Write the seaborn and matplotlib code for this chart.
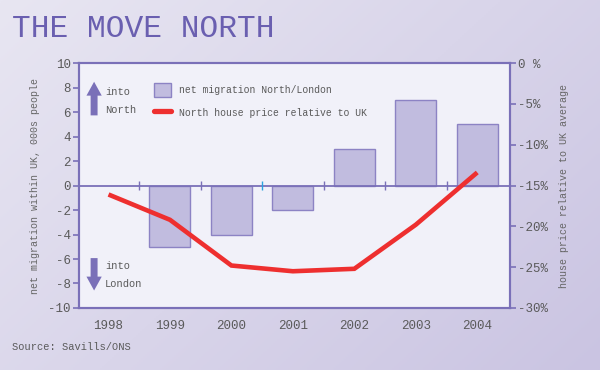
"""
The move North: net migration North/London vs North house prices relative to UK
"""
import numpy as np
import pandas as pd
import matplotlib
matplotlib.use('Agg')
import matplotlib.pyplot as plt
from matplotlib.patches import Patch
from matplotlib.lines import Line2D
import seaborn as sns

# Datos
years = ['1998', '1999', '2000', '2001', '2002', '2003', '2004']
migration_years = ['1999', '2000', '2001', '2002', '2003', '2004']
net_migration = [-5, -4, -2, 3, 7, 5]          # miles de personas
house_price_rel = [-16.1, -19.2, -24.8, -25.5, -25.2, -19.8, -13.4]  # % vs media UK
left_ticks = [10, 8, 6, 4, 2, 0, -2, -4, -6, -8, -10]
right_ticks = [0, -5, -10, -15, -20, -25, -30]
right_labels = ['0 %', '-5%', '-10%', '-15%', '-20%', '-25%', '-30%']

PURPLE = '#7a70b8'
BAR_FILL = '#c1bcdf'
BAR_EDGE = '#8c83c4'
RED = '#ee2f2f'
TEXT = '#5a5a5a'
FONT = 'Liberation Mono'

sns.set_style('white')
plt.rcParams['font.family'] = [FONT, 'DejaVu Sans']

fig = plt.figure(figsize=(6, 3.7), dpi=100)

# Fondo degradado lavanda
bg = fig.add_axes([0, 0, 1, 1], zorder=-10)
gx, gy = np.meshgrid(np.linspace(0, 1, 300), np.linspace(0, 1, 200))
grad = 0.6 * gx + 0.4 * gy
cmap = matplotlib.colors.LinearSegmentedColormap.from_list('bg', ['#e8e6f2', '#cac4e2'])
bg.imshow(grad, cmap=cmap, aspect='auto', extent=[0, 1, 0, 1], origin='upper')
bg.axis('off')

ax = fig.add_axes([0.1317, 0.1676, 0.718, 0.662])
ax.set_facecolor('#f1f1f9')

df = pd.DataFrame({'year': migration_years, 'migration': net_migration})
sns.barplot(data=df, x='year', y='migration', order=years, ax=ax,
            color=BAR_FILL, edgecolor=BAR_EDGE, linewidth=1.0,
            width=0.667, saturation=1, zorder=2)
for p in ax.patches:
    p.set_facecolor(BAR_FILL)

ax.set_xlim(-0.48, 6.53)
ax.set_ylim(-10, 10)
ax.set_yticks(left_ticks)
ax.set_yticklabels([str(t) for t in left_ticks])
ax.set_xticks(range(len(years)))
ax.set_xticklabels(years)
ax.set_xlabel('')
ax.set_ylabel('net migration within UK, 000s people', fontsize=7.2, color='#666666', labelpad=6)
ax.tick_params(axis='y', direction='out', length=4, width=1.2, color=PURPLE,
               labelsize=9, labelcolor=TEXT, pad=2)
ax.tick_params(axis='x', length=0, labelsize=9, labelcolor=TEXT, pad=9)
for s in ax.spines.values():
    s.set_color(PURPLE)
    s.set_linewidth(1.5)

# Línea del cero con marcas entre categorías
ax.axhline(0, color=PURPLE, lw=1.3, zorder=3)
gaps = np.arange(len(years) - 1) + 0.5
tick_colors = [PURPLE, PURPLE, '#2aa4e0', PURPLE, PURPLE, PURPLE]
ax.vlines(gaps, -0.35, 0.35, colors=tick_colors, lw=1.0, zorder=3)

# Eje derecho: precio relativo
ax2 = ax.twinx()
sns.lineplot(x=np.arange(len(years)), y=house_price_rel, ax=ax2, color=RED,
             lw=3.3, solid_joinstyle='miter', solid_capstyle='butt', zorder=4)
ax2.set_ylim(-30, 0)
ax2.set_yticks(right_ticks)
ax2.set_yticklabels(right_labels)
ax2.set_ylabel('house price relative to UK average', fontsize=7.2, color='#666666',
               rotation=90, labelpad=8)
ax2.tick_params(axis='y', direction='out', length=4, width=1.2, color=PURPLE,
                labelsize=9, labelcolor=TEXT, pad=2)
for s in ax2.spines.values():
    s.set_color(PURPLE)
    s.set_linewidth(1.5)
ax.set_zorder(1)
ax2.set_zorder(2)
ax2.patch.set_visible(False)
ax.patch.set_visible(True)

# Flechas "into North" / "into London"
arrow_style = 'simple,head_width=1.1,head_length=1.0,tail_width=0.5'
ax.annotate('', xy=(0.035, 0.935), xytext=(0.035, 0.775), xycoords='axes fraction',
            arrowprops=dict(arrowstyle=arrow_style, color=PURPLE, lw=0))
ax.annotate('', xy=(0.035, 0.06), xytext=(0.035, 0.215), xycoords='axes fraction',
            arrowprops=dict(arrowstyle=arrow_style, color=PURPLE, lw=0))
ax.text(0.06, 0.845, 'into\nNorth', transform=ax.transAxes, fontsize=7.5,
        color=TEXT, va='center', ha='left', linespacing=1.9)
ax.text(0.06, 0.135, 'into\nLondon', transform=ax.transAxes, fontsize=7.5,
        color=TEXT, va='center', ha='left', linespacing=1.9)

# Leyenda
handles = [Patch(facecolor=BAR_FILL, edgecolor=BAR_EDGE, lw=1.0),
           Line2D([], [], color=RED, lw=3.8)]
labels = ['net migration North/London', 'North house price relative to UK']
ax2.legend(handles, labels, loc='upper left', bbox_to_anchor=(0.174, 0.918),
           frameon=False, fontsize=7, handlelength=1.75, handleheight=1.75,
           handletextpad=0.8, labelspacing=0.95, borderpad=0, borderaxespad=0,
           labelcolor=TEXT)

# Título y fuente
fig.text(0.02, 0.922, 'THE MOVE NORTH', fontsize=22.5, color='#6a5fb0',
         family=FONT, va='center', ha='left')
fig.text(0.02, 0.062, 'Source: Savills/ONS', fontsize=7.5, color=TEXT,
         va='center', ha='left')

plt.savefig('out.png', dpi=100)
plt.close()
